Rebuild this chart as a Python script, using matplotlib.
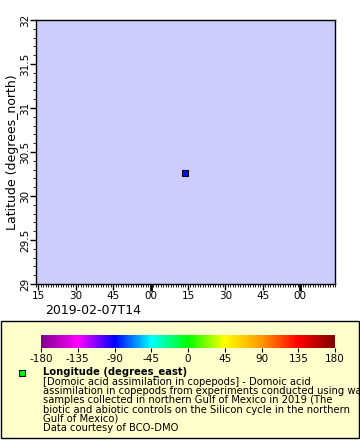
import numpy as np
import matplotlib
matplotlib.use("Agg")
import matplotlib.pyplot as plt
import matplotlib.dates as mdates
from matplotlib.colors import LinearSegmentedColormap, Normalize
from matplotlib.patches import Rectangle
import datetime as dt

plt.rcParams["axes.unicode_minus"] = False

# data
times = [dt.datetime(2019, 2, 7, 15, 14)]
lats = [30.26]
lons = [-88.5]

x_start = dt.datetime(2019, 2, 7, 14, 14)
x_end = dt.datetime(2019, 2, 7, 16, 14)
lat_min, lat_max = 29, 32
lon_ticks = [-180, -135, -90, -45, 0, 45, 90, 135, 180]

legend_title = "Longitude (degrees_east)"
legend_lines = [
    "[Domoic acid assimilation in copepods] - Domoic acid",
    "assimilation in copepods from experiments conducted using water",
    "samples collected in northern Gulf of Mexico in 2019 (The",
    "biotic and abiotic controls on the Silicon cycle in the northern",
    "Gulf of Mexico)",
    "Data courtesy of BCO-DMO",
]

cmap = LinearSegmentedColormap.from_list(
    "rainbow_erddap",
    ["#80008f", "#ff00ff", "#0000ff", "#00ffff", "#00ff00",
     "#ffff00", "#ff9900", "#ff0000", "#800000"])
norm = Normalize(-180, 180)

fig = plt.figure(figsize=(3.6, 4.4), dpi=100)
ax = fig.add_axes([36 / 360, 1 - 284 / 440, 299 / 360, 264 / 440])
ax.set_facecolor("#ccccff")

ax.scatter(mdates.date2num(times), lats, c=lons, cmap=cmap, norm=norm,
           marker="s", s=16, edgecolors="black", linewidths=0.8, zorder=3)

ax.set_xlim(mdates.date2num(x_start), mdates.date2num(x_end))
ax.set_ylim(lat_min, lat_max)

ax.xaxis.set_major_locator(mdates.MinuteLocator(byminute=[0, 15, 30, 45]))
ax.xaxis.set_major_formatter(mdates.DateFormatter("%M"))
ax.xaxis.set_minor_locator(mdates.MinuteLocator())
ax.yaxis.set_major_locator(plt.MultipleLocator(0.5))
ax.yaxis.set_minor_locator(plt.MultipleLocator(0.1))
ax.yaxis.set_major_formatter(plt.FuncFormatter(lambda v, p: f"{v:g}"))

ax.tick_params(which="major", length=4, width=1, labelsize=7.5, pad=1)
ax.tick_params(which="minor", length=2, width=0.6)
ax.tick_params(axis="y", labelrotation=90, pad=0)
for lab in ax.get_yticklabels():
    lab.set_va("center")
# hour ticks are drawn heavier
for tick, loc in zip(ax.xaxis.get_major_ticks(), ax.get_xticks()):
    if mdates.num2date(loc).minute == 0:
        tick.tick1line.set_markeredgewidth(2)
        tick.tick1line.set_markersize(5)
for s in ax.spines.values():
    s.set_linewidth(1)

ax.set_ylabel("Latitude (degrees_north)", fontsize=9, labelpad=1)
fig.text(45 / 360, 1 - 311 / 440, "2019-02-07T14", fontsize=9,
         ha="left", va="center")

# legend box, kept behind the colour bar
box = Rectangle((1 / 360, 1 - 438 / 440), 358 / 360, 117 / 440,
                transform=fig.transFigure, facecolor="#ffffcc",
                edgecolor="black", linewidth=1, zorder=-1)
fig.patches.append(box)

cax = fig.add_axes([41 / 360, 1 - 348 / 440, 294 / 360, 13 / 440])
cb = fig.colorbar(plt.cm.ScalarMappable(norm=norm, cmap=cmap), cax=cax,
                  orientation="horizontal", ticks=lon_ticks)
cb.outline.set_visible(False)
cax.tick_params(length=3, width=0.8, labelsize=7.5, pad=1)

fig.patches.append(Rectangle((19 / 360, 1 - 376 / 440), 6 / 360, 6 / 440,
                             transform=fig.transFigure, facecolor="#00ff00",
                             edgecolor="black", linewidth=0.8, zorder=2))

fig.text(43 / 360, 1 - 372 / 440, legend_title, fontsize=7.2,
         fontweight="bold", ha="left", va="center")
for i, line in enumerate(legend_lines):
    t = fig.text(43 / 360, 1 - (382 + 9.2 * i) / 440, line, fontsize=7.2,
                 ha="left", va="center")
    t.set_clip_path(box)

fig.savefig("out.png", dpi=100)
